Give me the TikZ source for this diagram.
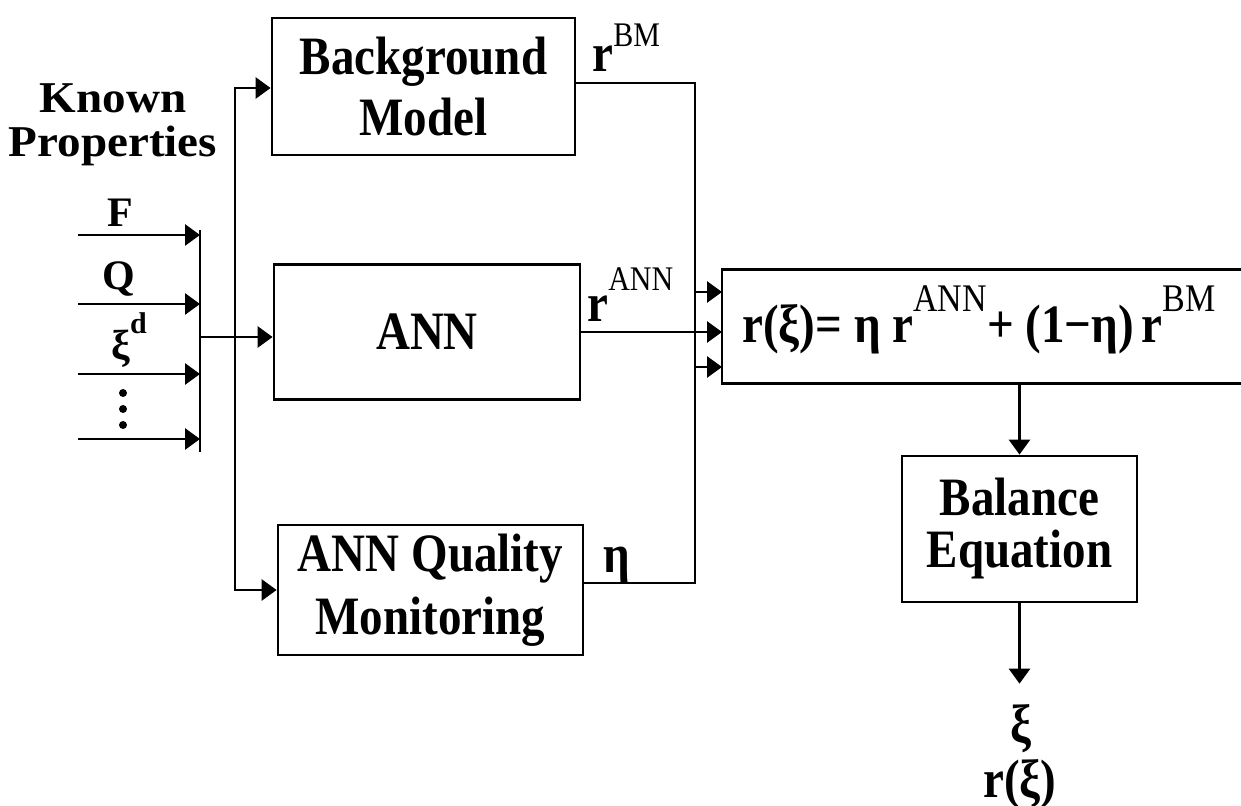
\documentclass[tikz,border=0pt]{standalone}
\usepackage{fontspec}
\setmainfont{Liberation Serif}
\usepackage{graphicx}
\usetikzlibrary{arrows.meta}
\newcommand{\tx}[1]{\scalebox{1}[1.15]{#1}}
\newcommand{\wx}[1]{\scalebox{1.07}[1]{#1}}
\newcommand{\bx}[1]{\fontsize{23.5}{#1}\selectfont\bfseries\lineskiplimit=-\maxdimen\lineskip=0pt\relax}
\newcommand{\lb}[1]{\fontsize{21}{#1}\selectfont\bfseries\lineskiplimit=-\maxdimen\lineskip=0pt\relax}
\newcommand{\kb}{\fontsize{22}{22}\selectfont\bfseries}
\newcommand{\spr}[3]{\raisebox{#1}{\fontsize{#2}{#2}\selectfont\mdseries #3}}
\tikzset{
  ln/.style={line width=1.4pt},
  arr/.style={line width=1.4pt,-{Triangle[length=7.5pt,width=10.5pt]}},
  box/.style={draw,line width=1.4pt,inner sep=0pt,align=center},
  lbl/.style={inner sep=0pt},
}
\begin{document}
\begin{tikzpicture}[x=0.5pt,y=-0.5pt]
\useasboundingbox (0,0) rectangle (1241,806);

% boxes
\node[box,font=\bx{30.5},minimum width=151.5pt,minimum height=68.5pt] (bm) at (423.5,86.5) {\tx{Background}\\\tx{Model}};
\node[box,font=\bx{30},minimum width=153pt,minimum height=67.5pt] (ann) at (427,332) {\tx{ANN}};
\node[box,font=\bx{31.5},minimum width=152.5pt,minimum height=65pt] (aqm) at (430.5,590) {\tx{ANN Quality}\\\tx{Monitoring}};
\node[box,font=\bx{26},minimum width=117.5pt,minimum height=73pt] (bal) at (1019.5,529) {\tx{Balance}\\\tx{Equation}};

% equation box, open at the right
\node[minimum width=265pt,minimum height=56.5pt,inner sep=0pt,anchor=west] (eqbox) at (722,326.5) {};
\draw[ln] (eqbox.north east) -- (eqbox.north west) -- (eqbox.south west) -- (eqbox.south east);
\node[lbl,anchor=base west,font=\bx{30}] (eqt) at (742,343) {\tx{r(ξ)= η r\spr{13.5pt}{17}{ANN}+ (1−η)\,r\spr{13.5pt}{17}{BM}}};

% known properties
\node[lbl,anchor=base,font=\kb] (kp1) at (113,113) {\wx{Known}};
\node[lbl,anchor=base,font=\kb] (kp2) at (113,157) {\wx{Properties}};
\node[lbl,anchor=base,font=\lb{20}] (lF) at (120,227) {F};
\node[lbl,anchor=base,font=\lb{20}] (lQ) at (119,290) {Q};
\node[lbl,anchor=base,font=\lb{20}] (lxi) at (129,360) {ξ\raisebox{13pt}{\fontsize{15}{15}\selectfont d}};
\fill (123,393) circle (2pt);
\fill (123,409) circle (2pt);
\fill (123,425) circle (2pt);

% input arrows and collector bar
\coordinate (cbT) at (200,230);
\coordinate (cbB) at (200,452);
\coordinate (cm) at (200,337);
\coordinate (in1) at (78,235);
\coordinate (in2) at (78,304);
\coordinate (in3) at (78,374);
\coordinate (in4) at (78,439);
\draw[ln] (cbT) -- (cbB);
\foreach \i in {in1,in2,in3,in4} \draw[arr] (\i) -- (\i -| cbT);
\draw[arr] (cm) -- (cm -| ann.west);

% left bus
\coordinate (lbT) at (235,88);
\coordinate (lbB) at (235,590);
\draw[arr] (lbB) -- (lbT) -- (lbT -| bm.west);
\draw[arr] (lbT) -- (lbB) -- (lbB -| aqm.west);

% outputs and right bus
\coordinate (rbT) at (695,83);
\coordinate (rbB) at (695,583);
\coordinate (rbA) at (695,292);
\coordinate (rbC) at (695,367);
\draw[ln] (rbT -| bm.east) -- (rbT) -- (rbB) -- (rbB -| aqm.east);
\draw[arr] (rbA) -- (rbA -| eqbox.west);
\draw[arr] (rbC) -- (rbC -| eqbox.west);
\draw[arr] (ann.east) -- (ann.east -| eqbox.west);

\node[lbl,anchor=base west,font=\bx{20}] (lbm) at (592,72) {\tx{r\spr{11pt}{15}{BM}}};
\node[lbl,anchor=base west,font=\bx{20}] (lann) at (587,322) {\tx{r\spr{13.5pt}{15}{ANN}}};
\node[lbl,anchor=base west,font=\bx{20}] (leta) at (603,572) {\tx{η}};

% balance equation
\draw[arr] (bal.north |- eqbox.south) -- (bal.north);
\node[lbl,anchor=base,font=\bx{20}] (oxi) at (1021,742) {\tx{ξ}};
\node[lbl,anchor=base,font=\bx{20}] (orxi) at (1020,797) {\tx{r(ξ)}};
\draw[arr,shorten >=10pt] (bal.south) -- (bal.south |- oxi.north);
\end{tikzpicture}
\end{document}
